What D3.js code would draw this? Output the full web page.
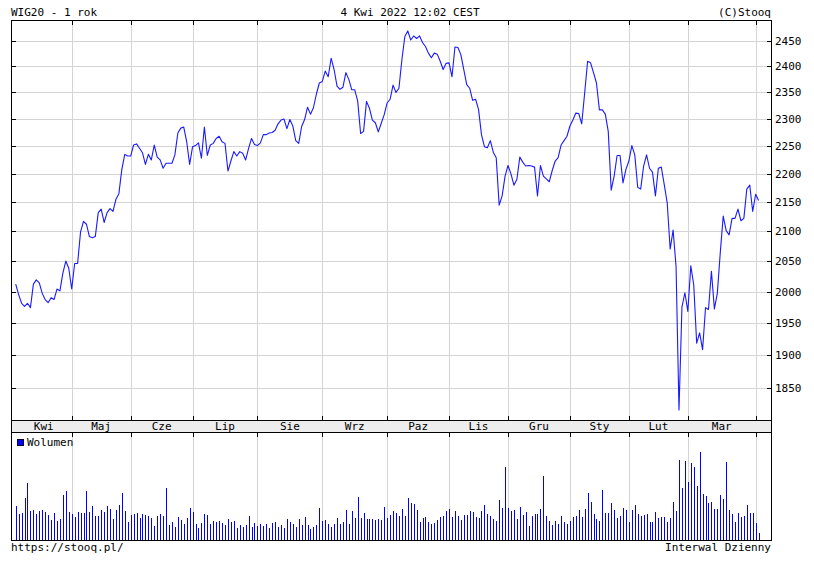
<!DOCTYPE html>
<html>
<head>
<meta charset="utf-8">
<script src="https://cdn.jsdelivr.net/npm/d3@7"></script>
<style>
  html, body { margin: 0; padding: 0; background: #fff; }
  svg { display: block; }
  text { font-family: "DejaVu Sans Mono", monospace; font-size: 11px; fill: #000; }
</style>
</head>
<body>
<script>
// ---------- DATA ----------
const title = "WIG20 - 1 rok";
const dateText = "4 Kwi 2022 12:02 CEST";
const copyright = "(C)Stooq";
const footerLeft = "https://stooq.pl/";
const footerRight = "Interwal Dzienny";
const legendLabel = "Wolumen";

// month labels and index of first trading day of each month in the series
const monthLabels = ["Kwi", "Maj", "Cze", "Lip", "Sie", "Wrz", "Paz", "Lis", "Gru", "Sty", "Lut", "Mar", "Kwi"];
const monthStart  = [0, 19, 39, 60, 82, 104, 126, 147, 167, 188, 208, 228, 251];

const priceTicks = [1850, 1900, 1950, 2000, 2050, 2100, 2150, 2200, 2250, 2300, 2350, 2400, 2450];

// WIG20 daily close (one per trading day, Apr 2021 - Apr 2022)
const closeApr21 = [2012,1995,1981,1976,1981,1974,2012,2019,2014,1997,1987,1982,1990,1987,2004,2001,2030,2050,2038];
const closeMay21 = [2004,2046,2046,2099,2117,2112,2091,2089,2091,2132,2138,2115,2132,2139,2134,2155,2165,2208,2235,2232];
const closeJun21 = [2232,2252,2254,2246,2238,2217,2235,2225,2252,2230,2225,2210,2219,2219,2219,2234,2274,2283,2285,2258,2217];
const closeJul21 = [2249,2251,2256,2228,2285,2233,2252,2255,2264,2268,2258,2255,2205,2223,2240,2232,2240,2237,2225,2246,2264,2253];
const closeAug21 = [2251,2256,2271,2271,2274,2275,2279,2291,2298,2300,2282,2299,2287,2260,2255,2286,2299,2322,2309,2321,2347,2368];
const closeSep21 = [2371,2391,2380,2416,2394,2362,2356,2360,2388,2375,2355,2355,2334,2273,2277,2333,2320,2298,2293,2276,2292,2308];
const closeOct21 = [2330,2337,2364,2350,2358,2413,2459,2470,2452,2460,2455,2460,2447,2439,2426,2417,2426,2424,2410,2394,2406];
const closeNov21 = [2407,2380,2438,2437,2423,2394,2365,2358,2335,2337,2318,2271,2249,2247,2260,2239,2229,2145,2161,2196];
const closeDec21 = [2215,2200,2180,2190,2230,2221,2214,2215,2214,2212,2161,2215,2196,2191,2186,2206,2223,2229,2252,2260,2268];
const closeJan22 = [2287,2298,2311,2310,2291,2349,2410,2407,2388,2368,2317,2317,2309,2277,2171,2196,2233,2233,2184,2208];
const closeFeb22 = [2223,2251,2234,2176,2173,2214,2234,2210,2203,2161,2210,2212,2181,2149,2070,2102,2041,1817,1975,1998];
const closeMar22 = [1968,2042,2011,1918,1934,1908,1974,1971,2033,1972,1997,2064,2126,2101,2094,2122,2122,2138,2118,2122,2173,2180,2134];
const closeApr22 = [2164,2153];

// daily volume (relative units)
const volume = [
  34,26,27,42,57,29,30,26,29,30, 28,25,20,27,19,21,45,49,28,26,
  23,28,27,27,49,28,34,24,24,30, 28,34,31,21,30,35,47,29,18,25,
  26,27,22,26,25,24,22,14,24,26, 24,52,15,18,13,23,20,16,22,32,
  28,16,12,17,26,25,16,19,18,19, 17,15,21,18,19,12,15,13,15,24,
  13,17,14,16,14,16,12,17,18,13, 15,12,21,18,16,13,21,15,23,15,
  11,13,15,32,19,20,16,13,16,22, 16,18,30,16,29,22,43,22,27,21,
  21,21,20,21,20,33,22,25,29,27, 24,
  31,24,42,37,36,30,18,22,23,18, 16,17,20,23,24,29,31,23,29,24,
  20,25,25,29,28,23,22,29,35,26, 24,21,19,40,32,73,32,29,30,21,
  33,25,28,14,24,26,26,31,64,24, 19,15,19,16,24,18,16,19,23,24,
  30,23,31,47,38,26,21,19,50,27, 27,37,30,22,24,32,30,18,30,35,
  26,24,25,26,18,18,28,22,23,23, 18,22,38,29,80,52,79,58,77,73,
  54,88,46,44,37,38,31,31,45,41, 78,30,26,18,27,23,24,35,27,27,
  17,7
];

// ---------- LAYOUT ----------
const W = 814, H = 567;
const L = 11, R = 771;
const plotTop = 20, plotBottom = 420;
const bandTop = 420, bandBottom = 432;
const volTop = 432, volBottom = 540;
const blue = "#0000ff";
const gridColor = "#d4d4d4";

const close = [].concat(closeApr21, closeMay21, closeJun21, closeJul21, closeAug21, closeSep21,
  closeOct21, closeNov21, closeDec21, closeJan22, closeFeb22, closeMar22, closeApr22);

const svg = d3.select("body").append("svg").attr("width", W).attr("height", H);

const x = d3.scaleLinear().domain([0, close.length - 1]).range([15.7, 15.7 + 2.948 * (close.length - 1)]);
const y = d3.scaleLog().domain([1802.3, 2492]).range([plotBottom, plotTop]);
const yv = d3.scaleLinear().domain([0, 107]).range([volBottom, volBottom - 107]);

const crisp = v => Math.round(v) + 0.5;

// panel backgrounds
svg.append("rect").attr("x", L).attr("y", bandTop).attr("width", R - L).attr("height", bandBottom - bandTop)
  .attr("fill", "#ededed");

const gGrid = svg.append("g").attr("shape-rendering", "crispEdges");
// horizontal grid
gGrid.selectAll("line.h").data(priceTicks).join("line")
  .attr("x1", L).attr("x2", R)
  .attr("y1", d => crisp(y(d))).attr("y2", d => crisp(y(d)))
  .attr("stroke", gridColor);
// vertical grid in price and volume panels
const vlines = monthStart.slice(1);
gGrid.selectAll("line.vp").data(vlines).join("line")
  .attr("x1", d => crisp(x(d))).attr("x2", d => crisp(x(d)))
  .attr("y1", plotTop).attr("y2", plotBottom).attr("stroke", gridColor);
gGrid.selectAll("line.vv").data(vlines).enter().append("line")
  .attr("x1", d => crisp(x(d))).attr("x2", d => crisp(x(d)))
  .attr("y1", volTop).attr("y2", volBottom).attr("stroke", gridColor);

// volume bars
svg.append("g").attr("shape-rendering", "crispEdges")
  .selectAll("line").data(volume).join("line")
  .attr("x1", (d, i) => crisp(x(i))).attr("x2", (d, i) => crisp(x(i)))
  .attr("y1", volBottom).attr("y2", d => yv(d))
  .attr("stroke", blue);

// price line
svg.append("path").datum(close)
  .attr("d", d3.line().x((d, i) => x(i)).y(d => y(d)))
  .attr("fill", "none").attr("stroke", "#1a1aff").attr("stroke-width", 1.1)
  .attr("stroke-linejoin", "round");

// frames and ticks
const gF = svg.append("g").attr("shape-rendering", "crispEdges").attr("stroke", "#000").attr("fill", "none");
gF.append("rect").attr("x", L + 0.5).attr("y", plotTop + 0.5).attr("width", R - L).attr("height", volBottom - plotTop);
gF.append("line").attr("x1", L).attr("x2", R).attr("y1", bandTop + 0.5).attr("y2", bandTop + 0.5);
gF.append("line").attr("x1", L).attr("x2", R).attr("y1", bandBottom + 0.5).attr("y2", bandBottom + 0.5);

// month ticks (inward) on panel edges
[[plotTop, 4], [bandTop, -4], [bandBottom, 4]].forEach(([y0, len]) => {
  gF.selectAll(null).data(vlines).enter().append("line")
    .attr("x1", d => crisp(x(d))).attr("x2", d => crisp(x(d)))
    .attr("y1", y0).attr("y2", y0 + len + (len > 0 ? 1 : 0));
});
// y ticks inward on left and right
gF.selectAll(null).data(priceTicks).enter().append("line")
  .attr("x1", L).attr("x2", L + 5).attr("y1", d => crisp(y(d))).attr("y2", d => crisp(y(d)));
gF.selectAll(null).data(priceTicks).enter().append("line")
  .attr("x1", R - 4).attr("x2", R + 1).attr("y1", d => crisp(y(d))).attr("y2", d => crisp(y(d)));

// y labels
svg.append("g").selectAll("text").data(priceTicks).join("text")
  .attr("x", 775).attr("y", d => Math.round(y(d)) + 4).text(d => d);

// month labels, centred between month starts
const labelPos = monthLabels.slice(0, -1).map((m, k) => ({
  m, cx: (x(monthStart[k]) + x(monthStart[k + 1])) / 2
}));
svg.append("g").selectAll("text").data(labelPos).join("text")
  .attr("x", d => d.cx).attr("y", 430).attr("text-anchor", "middle").text(d => d.m);

// header
svg.append("text").attr("x", L).attr("y", 16).text(title);
svg.append("text").attr("x", 410).attr("y", 16).attr("text-anchor", "middle").text(dateText);
svg.append("text").attr("x", R).attr("y", 16).attr("text-anchor", "end").text(copyright);

// legend
svg.append("rect").attr("x", 17.5).attr("y", 439.5).attr("width", 6).attr("height", 6)
  .attr("fill", blue).attr("stroke", "#000033").attr("shape-rendering", "crispEdges");
svg.append("text").attr("x", 27).attr("y", 446).text(legendLabel);

// footer
svg.append("text").attr("x", L).attr("y", 551).text(footerLeft);
svg.append("text").attr("x", R).attr("y", 551).attr("text-anchor", "end").text(footerRight);
</script>
</body>
</html>
